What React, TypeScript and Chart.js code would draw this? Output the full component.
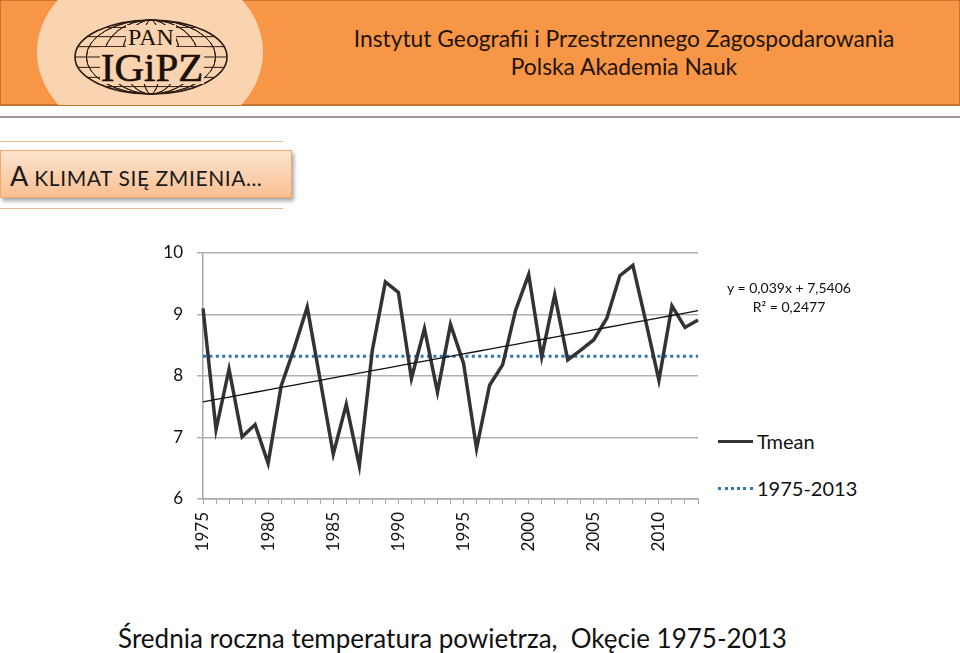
import React, { useEffect, useRef } from "react";
import { Chart, registerables } from "chart.js";

Chart.register(...registerables);

const years: string[] = [
  "1975","1976","1977","1978","1979","1980","1981","1982","1983","1984",
  "1985","1986","1987","1988","1989","1990","1991","1992","1993","1994",
  "1995","1996","1997","1998","1999","2000","2001","2002","2003","2004",
  "2005","2006","2007","2008","2009","2010","2011","2012","2013",
];

const tmean: number[] = [
  9.10, 7.13, 8.11, 7.01, 7.21, 6.58, 7.84, 8.45, 9.12, 7.93,
  6.73, 7.54, 6.54, 8.42, 9.53, 9.36, 7.96, 8.77, 7.74, 8.84,
  8.21, 6.82, 7.85, 8.18, 9.07, 9.65, 8.31, 9.32, 8.26, 8.42,
  8.59, 8.94, 9.63, 9.80, 8.88, 7.93, 9.14, 8.79, 8.91,
];

const periodMean = 8.32;
const trendSlope = 0.039;
const trendIntercept = 7.5406;
const yTicks: number[] = [6, 7, 8, 9, 10];

const FONT = "Lato, 'Open Sans', sans-serif";

function TempChart() {
  const ref = useRef<HTMLCanvasElement | null>(null);
  useEffect(() => {
    if (!ref.current) return;
    const meanSeries = years.map(() => periodMean);
    const trendSeries = years.map((_, i) => trendSlope * (i + 1) + trendIntercept);
    const chart = new Chart(ref.current, {
      type: "line",
      data: {
        labels: years,
        datasets: [
          {
            label: "Tmean",
            data: tmean,
            borderColor: "#333333",
            borderWidth: 3.5,
            pointRadius: 0,
            tension: 0,
            borderJoinStyle: "miter",
            order: 1,
          },
          {
            label: "1975-2013",
            data: meanSeries,
            borderColor: "#2a78b8",
            borderWidth: 3,
            borderDash: [3, 3.4],
            pointRadius: 0,
            order: 2,
          },
          {
            label: "trend",
            data: trendSeries,
            borderColor: "#111111",
            borderWidth: 1.3,
            pointRadius: 0,
            order: 0,
          },
        ],
      },
      options: {
        responsive: false,
        animation: false,
        layout: { padding: { left: 153, right: 262, top: 253, bottom: 94 } },
        plugins: {
          legend: { display: false },
          tooltip: { enabled: false },
        },
        scales: {
          x: {
            type: "category",
            offset: false,
            afterFit: (s: any) => { s.height = 60; },
            grid: {
              display: true,
              drawOnChartArea: false,
              drawTicks: true,
              tickLength: 5,
              color: "#a6a6a6",
              lineWidth: 1,
            },
            border: { display: true, color: "#a6a6a6", width: 1.5 },
            ticks: {
              autoSkip: false,
              maxRotation: 90,
              minRotation: 90,
              padding: 8,
              color: "#111111",
              font: { family: FONT, size: 17 },
              callback: (_v: any, i: number) => (Number(years[i]) % 5 === 0 ? years[i] : ""),
            },
          },
          y: {
            min: yTicks[0],
            max: yTicks[yTicks.length - 1],
            afterFit: (s: any) => { s.width = 50; },
            afterBuildTicks: (s: any) => { s.ticks = yTicks.map((v) => ({ value: v })); },
            grid: {
              color: "#b0b0b0",
              lineWidth: 1.5,
              tickLength: 6,
            },
            border: { display: true, color: "#a6a6a6", width: 1.5 },
            ticks: {
              padding: 14,
              color: "#111111",
              font: { family: FONT, size: 17 },
            },
          },
        },
      },
    });
    return () => chart.destroy();
  }, []);
  return (
    <canvas
      ref={ref}
      width={960}
      height={653}
      style={{ position: "absolute", left: 0, top: 0, width: 960, height: 653, zIndex: 2 }}
    />
  );
}

function Logo() {
  const cx = 151, cy = 57, rx = 76, ry = 37;
  const meridians = [-0.85, -0.62, -0.38, -0.13, 0.13, 0.38, 0.62, 0.85];
  const parallels = [-0.8, -0.55, -0.28, 0, 0.28, 0.55, 0.8];
  return (
    <svg width={960} height={110} style={{ position: "absolute", left: 0, top: 0 }}>
      <ellipse cx={cx} cy={cy} rx={rx} ry={ry} fill="none" stroke="#2a1a10" strokeWidth={1.6} />
      {meridians.map((m, i) => (
        <ellipse key={"m" + i} cx={cx} cy={cy} rx={Math.abs(m) * rx} ry={ry} fill="none" stroke="#2a1a10" strokeWidth={1} />
      ))}
      {parallels.map((p, i) => {
        const y = cy + p * ry;
        const hw = rx * Math.sqrt(1 - p * p);
        return <line key={"p" + i} x1={cx - hw} y1={y} x2={cx + hw} y2={y} stroke="#2a1a10" strokeWidth={1} />;
      })}
      <rect x={126} y={25} width={50} height={22} fill="#fad3b0" />
      <rect x={100} y={47} width={104} height={37} fill="#fad3b0" />
      <text x={151} y={45} textAnchor="middle" fontFamily="'Liberation Serif', serif" fontSize={24} fill="#1a1008">PAN</text>
      <text x={152} y={81} textAnchor="middle" fontFamily="'Liberation Serif', serif" fontSize={41} fill="#1a1008" stroke="#1a1008" strokeWidth={0.6}>IGiPZ</text>
    </svg>
  );
}

export default function App() {
  return (
    <div
      style={{
        position: "fixed",
        left: 0,
        top: 0,
        width: 960,
        height: 653,
        overflow: "hidden",
        background: "#ffffff",
        fontFamily: FONT,
      }}
    >
      {/* header */}
      <div
        style={{
          position: "absolute", left: 0, top: 0, width: 958, height: 103,
          background: "#f79646", border: "1px solid #c8732f", borderBottom: "2px solid #c8732f",
        }}
      />
      <div
        style={{
          position: "absolute", left: 37, top: -38, width: 226, height: 180,
          borderRadius: "50%", background: "#fad3b0", clipPath: "inset(38px 0 37px 0)",
        }}
      />
      <Logo />
      <div
        style={{
          position: "absolute", left: 300, top: 24, width: 648, textAlign: "center",
          fontSize: 22.8, lineHeight: "28px", color: "#221408",
        }}
      >
        <div>Instytut Geografii i Przestrzennego Zagospodarowania</div>
        <div>Polska Akademia Nauk</div>
      </div>
      <div style={{ position: "absolute", left: 0, top: 116, width: 960, height: 2, background: "#a8919a" }} />

      {/* section title */}
      <div style={{ position: "absolute", left: 0, top: 141, width: 283, height: 1, background: "#e8b896" }} />
      <div style={{ position: "absolute", left: 0, top: 208, width: 283, height: 1, background: "#e8b896" }} />
      <div
        style={{
          position: "absolute", left: 0, top: 150, width: 292, height: 48,
          background: "linear-gradient(#fde4cf, #f9bf92)", border: "1px solid #f2a66a",
          boxShadow: "2px 3px 4px rgba(0,0,0,0.35)", boxSizing: "border-box",
        }}
      >
        <div style={{ position: "absolute", left: 9, top: 8, whiteSpace: "nowrap", color: "#1a1a1a" }}>
          <span style={{ fontSize: 27 }}>A</span>
          <span style={{ fontSize: 21, letterSpacing: 0.6 }}> KLIMAT SIĘ ZMIENIA…</span>
        </div>
      </div>

      <TempChart />

      {/* trend equation */}
      <div
        style={{
          position: "absolute", left: 709, top: 278, width: 160, textAlign: "center",
          fontSize: 14, lineHeight: "19px", color: "#111", zIndex: 3,
        }}
      >
        <div>y = 0,039x + 7,5406</div>
        <div>R² = 0,2477</div>
      </div>

      {/* legend */}
      <div style={{ position: "absolute", left: 718, top: 440, width: 35, height: 0, borderTop: "3px solid #333" }} />
      <div style={{ position: "absolute", left: 757, top: 429, fontSize: 20, lineHeight: "24px", color: "#111" }}>Tmean</div>
      <div style={{ position: "absolute", left: 718, top: 487, width: 35, height: 0, borderTop: "3px dotted #2a78b8" }} />
      <div style={{ position: "absolute", left: 757, top: 476, fontSize: 20, lineHeight: "24px", color: "#111" }}>1975-2013</div>

      {/* caption */}
      <div
        style={{
          position: "absolute", left: 0, top: 621, width: 905, textAlign: "center",
          fontSize: 26, lineHeight: "34px", color: "#111", whiteSpace: "pre",
        }}
      >
        Średnia roczna temperatura powietrza,  Okęcie 1975-2013
      </div>
    </div>
  );
}
